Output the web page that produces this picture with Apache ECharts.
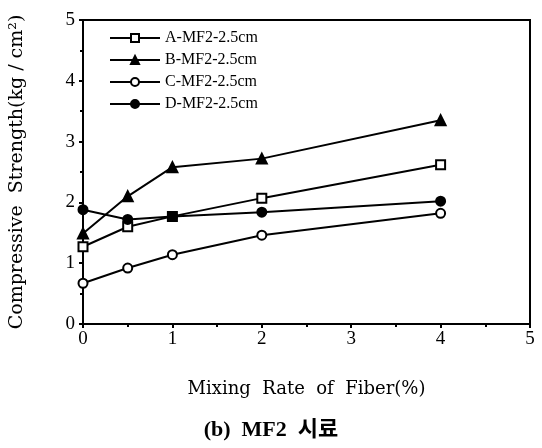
<!DOCTYPE html>
<html><head><meta charset="utf-8">
<script src="https://cdn.jsdelivr.net/npm/echarts@6/dist/echarts.min.js"></script>
<style>html,body{margin:0;padding:0;background:#fff}#c{width:542px;height:448px}</style>
</head><body><div id="c"></div>
<script>
const xValues = [0, 0.5, 1, 2, 4];
const seriesNames = ['A-MF2-2.5cm', 'B-MF2-2.5cm', 'C-MF2-2.5cm', 'D-MF2-2.5cm'];
const seriesA = [1.27, 1.60, 1.77, 2.07, 2.62];
const seriesB = [1.49, 2.10, 2.58, 2.72, 3.35];
const seriesC = [0.67, 0.92, 1.14, 1.46, 1.82];
const seriesD = [1.88, 1.72, 1.77, 1.84, 2.02];
const symbols = ['emptyRect', 'triangle', 'emptyCircle', 'circle'];
const xTitle = 'Mixing  Rate  of  Fiber(%)';
const yTitle = 'Compressive  Strength(kg / cm²)';
const caption = '(b)  MF2  시료';

const allData = [seriesA, seriesB, seriesC, seriesD];
const font = '"Liberation Serif", "Times New Roman", serif';
const wide = '"DejaVu Serif", serif';
const chart = echarts.init(document.getElementById('c'));
chart.setOption({
  animation: false,
  backgroundColor: '#fff',
  grid: {left: 83, right: 12, top: 20, bottom: 124, outerBoundsMode: 'none', containLabel: false, show: true, borderColor: '#000', borderWidth: 2, backgroundColor: 'transparent'},
  title: {text: caption, left: 'center', top: 414, textStyle: {fontFamily: '"Liberation Serif", "Noto Sans CJK KR", serif', fontSize: 22, fontWeight: 'bold', color: '#000'}},
  legend: {
    orient: 'vertical', left: 104, top: 25, itemGap: 6, itemWidth: 50, itemHeight: 10,
    data: seriesNames,
    textStyle: {fontFamily: font, fontSize: 16, color: '#000'}
  },
  xAxis: {
    type: 'value', min: 0, max: 5, interval: 1,
    name: xTitle, nameLocation: 'middle', nameGap: 56,
    nameTextStyle: {fontFamily: wide, fontSize: 18, color: '#000'},
    axisLine: {lineStyle: {color: '#000', width: 2}},
    axisTick: {length: 4, lineStyle: {color: '#000', width: 2}},
    minorTick: {show: true, splitNumber: 2, length: 3, lineStyle: {color: '#000', width: 2}},
    splitLine: {show: false},
    axisLabel: {fontFamily: font, fontSize: 19, color: '#000', margin: 6}
  },
  yAxis: {
    type: 'value', min: 0, max: 5, interval: 1,
    name: yTitle, nameLocation: 'middle', nameGap: 56, nameRotate: 90,
    nameTextStyle: {fontFamily: wide, fontSize: 19, color: '#000'},
    axisLine: {lineStyle: {color: '#000', width: 2}},
    axisTick: {length: 4, lineStyle: {color: '#000', width: 2}},
    minorTick: {show: true, splitNumber: 2, length: 3, lineStyle: {color: '#000', width: 2}},
    splitLine: {show: false},
    axisLabel: {fontFamily: font, fontSize: 19, color: '#000', margin: 8}
  },
  series: seriesNames.map((n, i) => ({
    name: n, type: 'line',
    data: xValues.map((x, j) => [x, allData[i][j]]),
    symbol: symbols[i], symbolSize: i === 1 ? 10 : 9,
    lineStyle: {color: '#000', width: 2},
    itemStyle: {color: '#000', borderColor: '#000', borderWidth: 2},
    z: 3
  }))
});
</script></body></html>
